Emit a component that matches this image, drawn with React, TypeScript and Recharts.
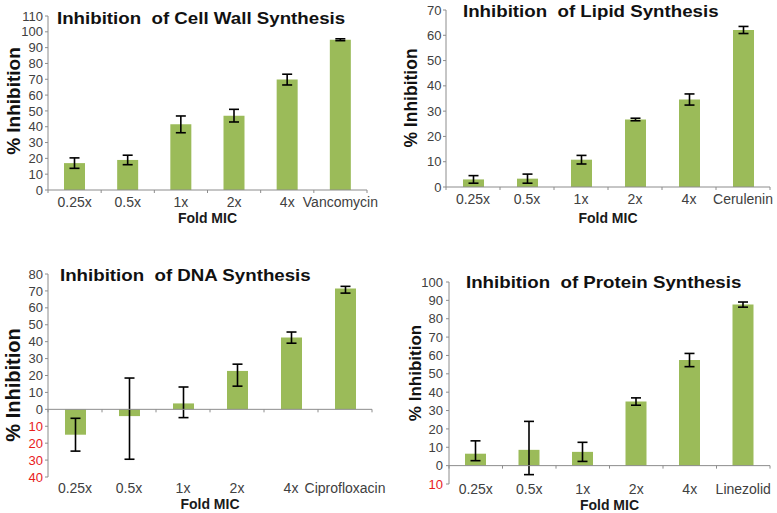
import React from 'react';
import { BarChart, Bar, XAxis, YAxis, ErrorBar, ReferenceLine } from 'recharts';

// ---------- data ----------
const folds = ['0.25x', '0.5x', '1x', '2x', '4x'];

const cellWallCategories = [...folds, 'Vancomycin'];
const cellWallValues = [17, 19, 41.5, 47, 69.8, 95];
const cellWallErrors: (number | number[])[] = [3.3, 3, 5.3, 4, 3.4, 0.6];
const cellWallTicks = [0, 10, 20, 30, 40, 50, 60, 70, 80, 90, 100, 110];

const lipidCategories = [...folds, 'Cerulenin'];
const lipidValues = [3, 3.3, 10.8, 26.7, 34.6, 62.1];
const lipidErrors: (number | number[])[] = [1.5, 1.8, 1.7, 0.5, 2.2, 1.4];
const lipidTicks = [0, 10, 20, 30, 40, 50, 60, 70];

const dnaCategories = [...folds, 'Ciprofloxacin'];
const dnaValues = [-15, -4, 3.5, 22.7, 42.4, 71.5];
const dnaErrors: (number | number[])[] = [9.7, [25.5, 22.5], [8.4, 9.7], [9, 4], 3.3, [2.8, 1.2]];
const dnaTicks = [-40, -30, -20, -10, 0, 10, 20, 30, 40, 50, 60, 70, 80];

const proteinCategories = [...folds, 'Linezolid'];
const proteinValues = [6.5, 8.6, 7.5, 34.9, 57.5, 87.7];
const proteinErrors: (number | number[])[] = [[3.8, 7], [13.5, 15.5], [5.2, 5.2], 2, 3.6, 1.4];
const proteinTicks = [-10, 0, 10, 20, 30, 40, 50, 60, 70, 80, 90, 100];

// ---------- styles ----------
const FONT = '"Liberation Sans", Arial, Helvetica, sans-serif';
const BAR = '#9bbb59';
const AXIS = '#8c8c8c';
const TICK_TEXT = '#404040';
const NEG_TEXT = '#e8201c';

type PanelProps = {
  categories: string[];
  values: number[];
  errors: (number | number[])[];
  ticks: number[];
  left: number;
  top: number;
  width: number;
  height: number;
  margin: { top: number; right: number; left: number; bottom: number };
  yAxisWidth: number;
  xAxisHeight: number;
  xTickSize: number;
  xTickMargin: number;
  yTickMargin: number;
  labelOffset: number;
};

const makeYTick = (props: any) => {
  const { x, y, payload } = props;
  const v = payload.value as number;
  return (
    <text
      x={x}
      y={y}
      dy={4.6}
      textAnchor="end"
      fontSize={13}
      fill={v < 0 ? NEG_TEXT : TICK_TEXT}
      fontFamily={FONT}
    >
      {Math.abs(v)}
    </text>
  );
};

const makeZeroAxis = (n: number) => (props: any) => {
  const x1 = Number(props.x1);
  const x2 = Number(props.x2);
  const y = Number(props.y1);
  const step = (x2 - x1) / n;
  return (
    <g>
      <line x1={x1} y1={y} x2={x2} y2={y} stroke={AXIS} strokeWidth={1} />
      {Array.from({ length: n + 1 }, (_, i) => (
        <line
          key={i}
          x1={x1 + i * step}
          x2={x1 + i * step}
          y1={y}
          y2={y + 3}
          stroke={AXIS}
          strokeWidth={1}
        />
      ))}
    </g>
  );
};

const Panel = (p: PanelProps) => {
  const data = p.categories.map((c, i) => ({ cat: c, value: p.values[i], err: p.errors[i] }));
  return (
    <div style={{ position: 'absolute', left: p.left, top: p.top }}>
      <BarChart width={p.width} height={p.height} data={data} margin={p.margin}>
        <XAxis
          dataKey="cat"
          axisLine={false}
          tickLine={false}
          interval={0}
          height={p.xAxisHeight}
          tickSize={p.xTickSize}
          tickMargin={p.xTickMargin}
          tick={{ fontSize: 14, fill: TICK_TEXT, fontFamily: FONT }}
          label={{
            value: 'Fold MIC',
            position: 'insideBottom',
            offset: p.labelOffset,
            style: { fontSize: 14, fontWeight: 'bold', fill: '#1a1a1a', fontFamily: FONT },
          }}
        />
        <YAxis
          type="number"
          domain={[p.ticks[0], p.ticks[p.ticks.length - 1]]}
          ticks={p.ticks}
          interval={0}
          width={p.yAxisWidth}
          axisLine={{ stroke: AXIS, strokeWidth: 1 }}
          tickLine={{ stroke: AXIS, strokeWidth: 1 }}
          tickSize={3}
          tickMargin={p.yTickMargin}
          tick={makeYTick}
        />
        <Bar dataKey="value" fill={BAR} barSize={21} isAnimationActive={false}>
          <ErrorBar dataKey="err" width={5} stroke="#000" strokeWidth={1.6} direction="y" />
        </Bar>
        <ReferenceLine y={0} stroke={AXIS} shape={makeZeroAxis(p.categories.length)} />
      </BarChart>
    </div>
  );
};

const Title = ({ text, left, top }: { text: string; left: number; top: number }) => (
  <div
    style={{
      position: 'absolute',
      left,
      top,
      fontSize: 17,
      lineHeight: '17px',
      fontWeight: 'bold',
      color: '#111',
      whiteSpace: 'pre',
      transform: 'scaleX(1.1)',
      transformOrigin: 'left center',
      fontFamily: FONT,
    }}
  >
    {text}
  </div>
);

const YLabel = ({ cx, cy, size }: { cx: number; cy: number; size: number }) => (
  <div
    style={{
      position: 'absolute',
      left: cx,
      top: cy,
      fontSize: size,
      lineHeight: `${size}px`,
      fontWeight: 'bold',
      color: '#111',
      whiteSpace: 'nowrap',
      transform: 'translate(-50%, -50%) rotate(-90deg)',
      fontFamily: FONT,
    }}
  >
    % Inhibition
  </div>
);

export default function App() {
  return (
    <div
      style={{
        position: 'absolute',
        left: 0,
        top: 0,
        width: 777,
        height: 513,
        background: '#fff',
        overflow: 'hidden',
        fontFamily: FONT,
      }}
    >
      <Panel
        categories={cellWallCategories}
        values={cellWallValues}
        errors={cellWallErrors}
        ticks={cellWallTicks}
        left={0}
        top={0}
        width={390}
        height={225}
        margin={{ top: 16, right: 23, left: 0, bottom: 0 }}
        yAxisWidth={48}
        xAxisHeight={35}
        xTickSize={5}
        xTickMargin={2}
        yTickMargin={2}
        labelOffset={2}
      />
      <Panel
        categories={lipidCategories}
        values={lipidValues}
        errors={lipidErrors}
        ticks={lipidTicks}
        left={390}
        top={0}
        width={387}
        height={225}
        margin={{ top: 10, right: 7, left: 0, bottom: 0 }}
        yAxisWidth={56}
        xAxisHeight={38}
        xTickSize={5}
        xTickMargin={2}
        yTickMargin={1.5}
        labelOffset={2}
      />
      <Panel
        categories={dnaCategories}
        values={dnaValues}
        errors={dnaErrors}
        ticks={dnaTicks}
        left={0}
        top={250}
        width={390}
        height={263}
        margin={{ top: 24, right: 18, left: 0, bottom: 0 }}
        yAxisWidth={48}
        xAxisHeight={36}
        xTickSize={4}
        xTickMargin={2}
        yTickMargin={2}
        labelOffset={4}
      />
      <Panel
        categories={proteinCategories}
        values={proteinValues}
        errors={proteinErrors}
        ticks={proteinTicks}
        left={390}
        top={250}
        width={387}
        height={263}
        margin={{ top: 32, right: 7, left: 0, bottom: 0 }}
        yAxisWidth={59}
        xAxisHeight={29}
        xTickSize={0}
        xTickMargin={0}
        yTickMargin={3}
        labelOffset={3}
      />

      <Title text="Inhibition  of Cell Wall Synthesis" left={57} top={10} />
      <Title text="Inhibition  of Lipid Synthesis" left={463} top={3} />
      <Title text="Inhibition  of DNA Synthesis" left={60} top={267} />
      <Title text="Inhibition  of Protein Synthesis" left={466} top={274} />

      <YLabel cx={13} cy={101} size={19} />
      <YLabel cx={412} cy={98} size={17.5} />
      <YLabel cx={13} cy={385} size={20} />
      <YLabel cx={415} cy={373} size={17} />
    </div>
  );
}
